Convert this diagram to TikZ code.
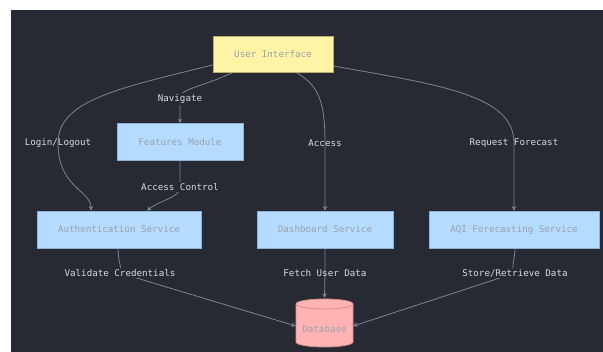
\documentclass[tikz,border=0pt]{standalone}
\usepackage{fontspec}
\setmonofont{DejaVu Sans Mono}
\usetikzlibrary{arrows.meta,calc}
\definecolor{canvas}{HTML}{282A33}
\definecolor{wire}{HTML}{7E8490}
\definecolor{labeltext}{HTML}{DADADA}
\definecolor{boxtext}{HTML}{9AA2AC}
\definecolor{uifill}{HTML}{FFF3A6}
\definecolor{uiline}{HTML}{B8AE72}
\definecolor{svcfill}{HTML}{B5DBFF}
\definecolor{svcline}{HTML}{8FB3D6}
\definecolor{dbfill}{HTML}{FFB3B3}
\definecolor{dbline}{HTML}{D98E8E}
\pgfdeclarelayer{bglayer}
\pgfdeclarelayer{wires}
\pgfsetlayers{bglayer,wires,main}
\tikzset{
  txt/.style={font=\ttfamily\fontsize{9.2}{11}\selectfont},
  uibox/.style={txt,draw=uiline,fill=uifill,text=boxtext,line width=0.8pt,
    minimum width=120pt,minimum height=36pt,inner sep=0pt},
  svcbox/.style={txt,draw=svcline,fill=svcfill,text=boxtext,line width=0.8pt,
    minimum height=37pt,inner sep=0pt},
  elabel/.style={txt,text=labeltext,inner sep=1.5pt},
  masked/.style={fill=canvas},
  edge/.style={draw=wire,line width=0.8pt,-{Stealth[length=4.5pt,width=4.5pt]}},
}
\begin{document}
\begin{tikzpicture}[x=1pt,y=-1pt]
\useasboundingbox (0,0) rectangle (603,352);
\begin{pgfonlayer}{bglayer}
  \fill[white] (0,0) rectangle (603,352);
  \fill[canvas] (11,10) rectangle (603,352);
\end{pgfonlayer}

% boxes
\node[uibox] (ui) at (273,54) {User Interface};
\node[svcbox,minimum width=126pt] (feat) at (180,142) {Features Module};
\node[svcbox,minimum width=164pt] (auth) at (119,229.5) {Authentication Service};
\node[svcbox,minimum width=136pt] (dash) at (325,229.5) {Dashboard Service};
\node[svcbox,minimum width=170pt] (aqi) at (514,229.5) {AQI Forecasting Service};

% database cylinder
\node[txt,text=boxtext,minimum width=57pt,minimum height=50pt,inner sep=0pt] (db) at (324.5,323) {};
\filldraw[fill=dbfill,draw=dbline,line width=0.8pt]
  (296,304) -- (296,342) arc[start angle=180,end angle=0,x radius=28.5,y radius=5]
  -- (353,304) arc[start angle=0,end angle=-180,x radius=28.5,y radius=5] -- cycle;
\draw[dbline,line width=0.8pt] (296,304) arc[start angle=180,end angle=0,x radius=28.5,y radius=5];
\node[txt,text=boxtext] at (324.5,329) {Database};

% edge labels
\node[elabel,masked] (lnav) at (180,99) {Navigate};
\node[elabel] (llog) at (58,143) {Login/Logout};
\node[elabel] (lacc) at (325,143) {Access};
\node[elabel] (lreq) at (514,143) {Request Forecast};
\node[elabel,masked] (lctl) at (180,187) {Access Control};
\node[elabel,masked] (lval) at (120,273) {Validate Credentials};
\node[elabel] (lfet) at (325,273) {Fetch User Data};
\node[elabel,masked] (lsto) at (515,273) {Store/Retrieve Data};

\begin{pgfonlayer}{wires}
  % from the interface
  \draw[edge] ([yshift=-11pt]ui.west) .. controls (120,88) and (58,100) .. (llog.center)
     .. controls (58,188) and (91,190) .. ([xshift=-28pt]auth.north);
  \draw[edge] ([xshift=-40pt]ui.south) .. controls (200,88) and (180,88) .. (lnav.center)
     -- (feat.north);
  \draw[edge] ([xshift=23pt]ui.south) .. controls (318,85) and (325,100) .. (lacc.center)
     -- (dash.north);
  \draw[edge] ([yshift=-12pt]ui.east) .. controls (440,85) and (514,95) .. (lreq.center)
     -- (aqi.north);
  % between modules
  \draw[edge] (feat.south) -- (lctl.center) .. controls (180,198) and (160,200) .. ([xshift=28pt]auth.north);
  % to the database
  \draw[edge] ([xshift=-1pt]auth.south) .. controls (118,262) and (122,266) .. (lval.center)
     -- ([yshift=-3pt]db.west);
  \draw[edge] (dash.south) -- (lfet.center) -- (db.north);
  \draw[edge] ([xshift=1pt]aqi.south) .. controls (515,262) and (510,266) .. (lsto.center)
     -- ([yshift=-3pt]db.east);
\end{pgfonlayer}
\end{tikzpicture}
\end{document}
